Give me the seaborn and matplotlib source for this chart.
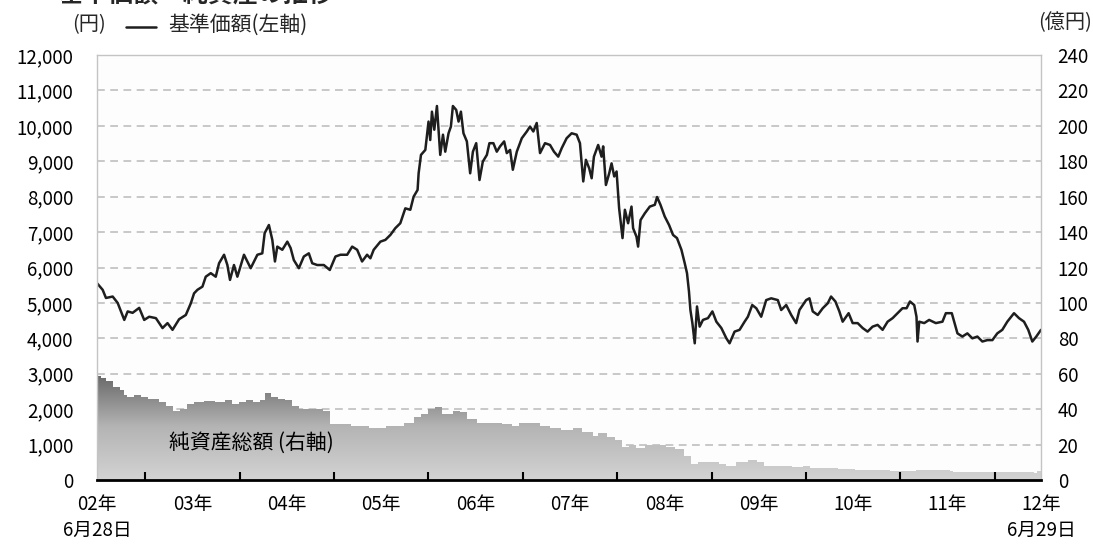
import numpy as np
import pandas as pd
import matplotlib
matplotlib.use("Agg")
import matplotlib.pyplot as plt
import seaborn as sns
from matplotlib.colors import LinearSegmentedColormap
from matplotlib.patches import PathPatch
from matplotlib.lines import Line2D
from matplotlib.ticker import FuncFormatter

# ---------------- data ----------------
nav_year = [2002.49, 2002.55, 2002.585, 2002.656, 2002.709, 2002.779, 2002.815, 2002.867, 2002.937, 2002.99,
            2003.043, 2003.114, 2003.184, 2003.237, 2003.29, 2003.36, 2003.431, 2003.484, 2003.518, 2003.554,
            2003.607, 2003.642, 2003.695, 2003.748, 2003.783, 2003.836, 2003.871, 2003.899, 2003.941, 2003.977,
            2004.047, 2004.118, 2004.189, 2004.241, 2004.266, 2004.311, 2004.347, 2004.375, 2004.4, 2004.453,
            2004.506, 2004.541, 2004.575, 2004.628, 2004.681, 2004.734, 2004.77, 2004.823, 2004.893, 2004.956,
            2005.016, 2005.069, 2005.14, 2005.193, 2005.246, 2005.298, 2005.351, 2005.386, 2005.421, 2005.492,
            2005.545, 2005.598, 2005.65, 2005.703, 2005.756, 2005.809, 2005.844, 2005.886, 2005.897, 2005.922,
            2005.968, 2006.002, 2006.02, 2006.038, 2006.063, 2006.091, 2006.126, 2006.155, 2006.179, 2006.214,
            2006.239, 2006.26, 2006.295, 2006.32, 2006.345, 2006.372, 2006.408, 2006.443, 2006.472, 2006.507,
            2006.542, 2006.577, 2006.62, 2006.647, 2006.689, 2006.725, 2006.76, 2006.803, 2006.831, 2006.866,
            2006.895, 2006.937, 2006.99, 2007.043, 2007.077, 2007.112, 2007.148, 2007.183, 2007.236, 2007.289,
            2007.331, 2007.376, 2007.413, 2007.465, 2007.518, 2007.571, 2007.606, 2007.641, 2007.669, 2007.704,
            2007.73, 2007.754, 2007.799, 2007.835, 2007.852, 2007.881, 2007.916, 2007.941, 2007.969, 2007.994,
            2008.021, 2008.057, 2008.082, 2008.116, 2008.152, 2008.169, 2008.205, 2008.222, 2008.248, 2008.293,
            2008.346, 2008.399, 2008.423, 2008.459, 2008.504, 2008.55, 2008.592, 2008.634, 2008.681, 2008.716,
            2008.74, 2008.761, 2008.776, 2008.797, 2008.822, 2008.846, 2008.874, 2008.909, 2008.962, 2009.009,
            2009.051, 2009.104, 2009.157, 2009.191, 2009.244, 2009.297, 2009.35, 2009.385, 2009.431, 2009.474,
            2009.526, 2009.579, 2009.632, 2009.702, 2009.738, 2009.791, 2009.844, 2009.896, 2009.931, 2010.002,
            2010.037, 2010.072, 2010.125, 2010.178, 2010.231, 2010.266, 2010.312, 2010.354, 2010.389, 2010.452,
            2010.495, 2010.548, 2010.601, 2010.653, 2010.706, 2010.759, 2010.812, 2010.865, 2010.918, 2010.971,
            2011.023, 2011.066, 2011.102, 2011.147, 2011.171, 2011.182, 2011.2, 2011.253, 2011.305, 2011.376,
            2011.446, 2011.482, 2011.545, 2011.57, 2011.605, 2011.657, 2011.71, 2011.763, 2011.816, 2011.869,
            2011.922, 2011.975, 2012.027, 2012.08, 2012.133, 2012.204, 2012.257, 2012.31, 2012.355, 2012.398,
            2012.44, 2012.49]
nav_value = [5557, 5370, 5140, 5180, 5000, 4520, 4760, 4720, 4860, 4520,
             4610, 4570, 4290, 4430, 4240, 4540, 4660, 4990, 5270, 5370,
             5460, 5740, 5840, 5740, 6120, 6360, 6070, 5650, 6070, 5740,
             6360, 5980, 6360, 6400, 6970, 7200, 6780, 6170, 6590, 6500,
             6730, 6550, 6210, 5980, 6310, 6400, 6120, 6070, 6070, 5930,
             6310, 6360, 6360, 6590, 6500, 6170, 6360, 6260, 6500, 6730,
             6780, 6920, 7110, 7250, 7670, 7630, 8000, 8190, 8660, 9180,
             9320, 10120, 9600, 10400, 9890, 10560, 9180, 9750, 9270, 9790,
             9980, 10560, 10450, 10120, 10400, 9790, 9560, 8660, 9270, 9510,
             8470, 8990, 9180, 9510, 9510, 9270, 9420, 9560, 9230, 9320,
             8760, 9270, 9650, 9840, 9980, 9840, 10080, 9230, 9510, 9460,
             9270, 9130, 9370, 9650, 9790, 9750, 9510, 8430, 9040, 8800,
             8520, 9130, 9460, 9130, 9420, 8330, 8660, 8940, 8570, 8710,
             7670, 6830, 7630, 7250, 7720, 7110, 6870, 6590, 7340, 7530,
             7720, 7770, 7990, 7770, 7440, 7200, 6920, 6830, 6500, 6120,
             5840, 5320, 4800, 4430, 3860, 4900, 4330, 4520, 4570, 4760,
             4470, 4290, 4000, 3860, 4190, 4240, 4470, 4610, 4940, 4850,
             4610, 5080, 5130, 5080, 4800, 4940, 4660, 4430, 4800, 5080,
             5130, 4760, 4660, 4850, 4990, 5180, 5040, 4760, 4470, 4710,
             4430, 4430, 4290, 4190, 4330, 4380, 4240, 4470, 4570, 4710,
             4850, 4850, 5040, 4940, 4610, 3910, 4470, 4430, 4520, 4430,
             4470, 4710, 4710, 4470, 4140, 4050, 4140, 4000, 4050, 3910,
             3950, 3950, 4140, 4240, 4470, 4710, 4570, 4470, 4240, 3910,
             4050, 4240]

asset_year = [2002.49, 2002.532, 2002.588, 2002.662, 2002.736, 2002.773, 2002.81, 2002.884, 2002.959, 2003.033,
              2003.144, 2003.218, 2003.292, 2003.366, 2003.441, 2003.515, 2003.626, 2003.737, 2003.849, 2003.923,
              2003.997, 2004.071, 2004.145, 2004.219, 2004.265, 2004.331, 2004.405, 2004.479, 2004.553, 2004.627,
              2004.739, 2004.887, 2004.943, 2004.961, 2005.073, 2005.184, 2005.37, 2005.555, 2005.741, 2005.852,
              2005.926, 2006.0, 2006.075, 2006.149, 2006.26, 2006.334, 2006.408, 2006.52, 2006.668, 2006.78,
              2006.891, 2006.965, 2007.076, 2007.188, 2007.294, 2007.407, 2007.535, 2007.628, 2007.739, 2007.795,
              2007.888, 2007.98, 2008.056, 2008.13, 2008.204, 2008.297, 2008.408, 2008.518, 2008.611, 2008.704,
              2008.778, 2008.852, 2008.963, 2009.075, 2009.149, 2009.26, 2009.39, 2009.482, 2009.557, 2009.705,
              2009.853, 2009.965, 2010.04, 2010.335, 2010.521, 2010.893, 2011.17, 2011.523, 2011.56, 2012.005,
              2012.413, 2012.443, 2012.49]
asset_value = [58.5, 57.7, 55.7, 52.8, 50.9, 48.0, 47.0, 48.0, 47.0, 46.0,
               44.0, 42.0, 39.2, 40.2, 43.1, 44.0, 44.7, 44.0, 45.0, 43.1,
               44.0, 45.0, 44.0, 45.0, 48.9, 47.0, 46.0, 45.0, 42.0, 40.2,
               40.2, 39.2, 39.2, 31.5, 31.5, 30.5, 29.5, 30.5, 32.4, 35.3,
               37.3, 40.2, 41.2, 37.3, 39.2, 38.3, 34.4, 32.4, 32.4, 31.8,
               30.5, 32.4, 32.4, 30.5, 29.2, 28.3, 29.6, 27.3, 25.0, 26.3,
               24.4, 22.5, 18.7, 20.0, 18.1, 19.6, 20.0, 18.7, 17.3, 13.8,
               9.0, 10.0, 10.0, 9.0, 8.1, 10.0, 11.3, 10.0, 8.1, 7.7,
               7.1, 7.7, 6.5, 6.2, 5.8, 5.2, 5.8, 5.2, 4.6, 4.6,
               4.2, 5.2, 5.2]

year_label_pos = [2002.49, 2003.5, 2004.5, 2005.5, 2006.5, 2007.5, 2008.5, 2009.5, 2010.5, 2011.5, 2012.49]
year_labels = ["02年\n6月28日", "03年", "04年", "05年", "06年", "07年", "08年", "09年", "10年", "11年", "12年\n6月29日"]
year_tick_pos = [2003, 2004, 2005, 2006, 2007, 2008, 2009, 2010, 2011, 2012, 2012.49]
left_ticks = list(range(0, 12001, 1000))
right_ticks = list(range(0, 241, 20))

# ---------------- style ----------------
sns.set_theme(style="white")
plt.rcParams["font.family"] = ["Noto Sans CJK JP", "DejaVu Sans"]
FS_Y = 13.5
FS_X = 13.5
FS_H = 14.5

fig = plt.figure(figsize=(10.93, 5.44), dpi=100)
ax = fig.add_axes([97 / 1093, 1 - 480 / 544, (1041 - 97) / 1093, (480 - 55) / 544])
ax2 = ax.twinx()
ax.set_zorder(ax2.get_zorder() + 1)
ax.patch.set_visible(False)
ax2.patch.set_visible(True)
ax2.patch.set_facecolor("#fdfdfd")

# net assets area with vertical gradient (right axis)
x0, x1 = year_label_pos[0], year_label_pos[-1]
poly = ax2.fill_between(asset_year, 0, asset_value, step="post", facecolor="none", edgecolor="none")
clip = PathPatch(poly.get_paths()[0], transform=ax2.transData, facecolor="none", edgecolor="none")
ax2.add_patch(clip)
cmap = LinearSegmentedColormap.from_list("g", ["#d3d3d3", "#b4b4b4", "#666666"])
grad = np.linspace(0, 1, 256).reshape(-1, 1)
im = ax2.imshow(grad, extent=[x0, x1, 0, 60], origin="lower", aspect="auto", cmap=cmap, zorder=2)
im.set_clip_path(clip)

ax2.set_ylim(0, 240)
ax2.set_yticks(right_ticks)
ax2.yaxis.grid(True, linestyle=(0, (4, 2.8)), color="#c8c8c8", linewidth=1.4, zorder=1)
ax2.set_axisbelow(True)
ax2.tick_params(axis="y", length=0, pad=12, labelsize=FS_Y, labelcolor="black")
for s in ax2.spines.values():
    s.set_visible(False)

# NAV line (left axis)
df = pd.DataFrame({"year": nav_year, "nav": nav_value})
sns.lineplot(data=df, x="year", y="nav", ax=ax, color="#1e1e1e", linewidth=1.8, estimator=None, sort=False)
ax.set_xlim(x0, x1)
ax.set_ylim(0, 12000)
ax.set_yticks(left_ticks)
ax.yaxis.set_major_formatter(FuncFormatter(lambda v, p: f"{int(v):,}"))
ax.tick_params(axis="y", length=0, pad=17, labelsize=FS_Y, labelcolor="black")
ax.set_xlabel("")
ax.set_ylabel("")

ax.set_xticks(year_label_pos)
ax.set_xticklabels(year_labels, linespacing=1.3)
ax.set_xticks(year_tick_pos, minor=True)
ax.tick_params(axis="x", which="major", length=0, pad=10, labelsize=FS_X, labelcolor="black")
ax.tick_params(axis="x", which="minor", direction="in", length=6, width=1.5, color="black", bottom=True)

ax.spines["bottom"].set_color("black")
ax.spines["bottom"].set_linewidth(2.0)
for k in ["left", "right", "top"]:
    ax.spines[k].set_color("#c4c4c4")
    ax.spines[k].set_linewidth(1.0)

ax.text(2003.25, 20.9, "純資産総額 (右軸)", transform=ax2.transData, fontsize=15,
        ha="left", va="center", color="black", zorder=10)

# header texts
fig.text(58 / 1093, 1 - 3 / 544, "基準価額・純資産の推移", fontsize=18, fontweight="bold",
         ha="left", va="baseline")
fig.text(72 / 1093, 1 - 25 / 544, "(円)", fontsize=FS_H, ha="left", va="center")
fig.add_artist(Line2D([126 / 1093, 156 / 1093], [1 - 27 / 544, 1 - 27 / 544], color="#1e1e1e",
                      linewidth=1.8, transform=fig.transFigure))
fig.text(168 / 1093, 1 - 25 / 544, "基準価額(左軸)", fontsize=FS_H + 0.5, ha="left", va="center")
fig.text(1092 / 1093, 1 - 23 / 544, "(億円)", fontsize=FS_H, ha="right", va="center")

fig.savefig("out.png", dpi=100, facecolor="white")
